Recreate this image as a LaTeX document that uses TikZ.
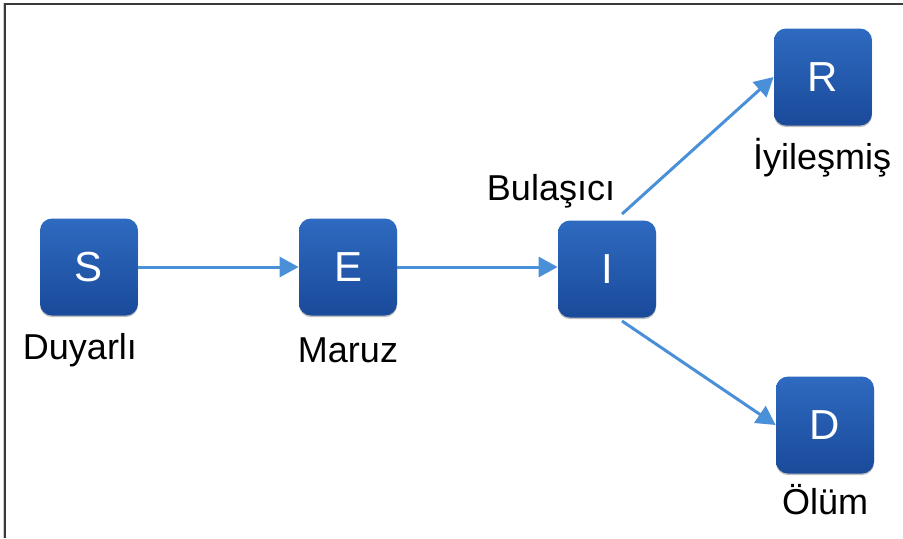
\documentclass[tikz,border=0pt]{standalone}
\usepackage{fontspec}
\setmainfont{Liberation Sans}
\usetikzlibrary{arrows.meta,shadows}
\definecolor{arrowblue}{HTML}{4A90D9}
\definecolor{boxtop}{HTML}{2E6AC0}
\definecolor{boxbot}{HTML}{1A4A9A}
\definecolor{frame}{HTML}{3A3A3A}
\tikzset{
  statebox/.style={rounded corners=6pt, minimum width=49pt, minimum height=48.5pt,
    top color=boxtop, bottom color=boxbot, draw=none, text=white,
    font=\fontsize{21}{24}\selectfont,
    drop shadow={shadow xshift=0pt, shadow yshift=-0.8pt, opacity=0.25, fill=black}},
  lbl/.style={font=\fontsize{18}{21}\selectfont, text=black, inner sep=0pt},
  flow/.style={draw=arrowblue, line width=1.5pt,
    -{Triangle[length=9.5pt, width=10pt]}}
}
\begin{document}
\begin{tikzpicture}[x=0.5pt, y=-0.5pt]
\useasboundingbox (0,0) rectangle (903,538);
\fill[white] (0,0) rectangle (903,538);
% frame (top and left only)
\draw[gray!40, line width=0.6pt] (3.5,3) -- (3.5,538);
\draw[frame, line width=0.8pt] (5,538) -- (5,4) -- (903,4);
% state boxes
\node[statebox] (S) at (89,267) {S};
\node[statebox] (E) at (348,267) {E};
\node[statebox] (I) at (607,269) {I};
\node[statebox] (R) at (823,77) {R};
\node[statebox] (D) at (825,425) {D};
% labels
\node[lbl] (lS) at (80,350) {Duyarlı};
\node[lbl] (lE) at (348,350) {Maruz};
\node[lbl] (lI) at (551,191) {Bulaşıcı};
\node[lbl] (lR) at (822,158) {İyileşmiş};
\node[lbl] (lD) at (825,500) {Ölüm};
% connectors
\coordinate (Iup) at (622,214);
\coordinate (Idn) at (622,321);
\draw[flow] (S.east) -- (E.west);
\draw[flow] (E.east) -- (I.west |- E.east);
\draw[flow] (Iup) -- (R.west);
\draw[flow] (Idn) -- (D.west);
\end{tikzpicture}
\end{document}
